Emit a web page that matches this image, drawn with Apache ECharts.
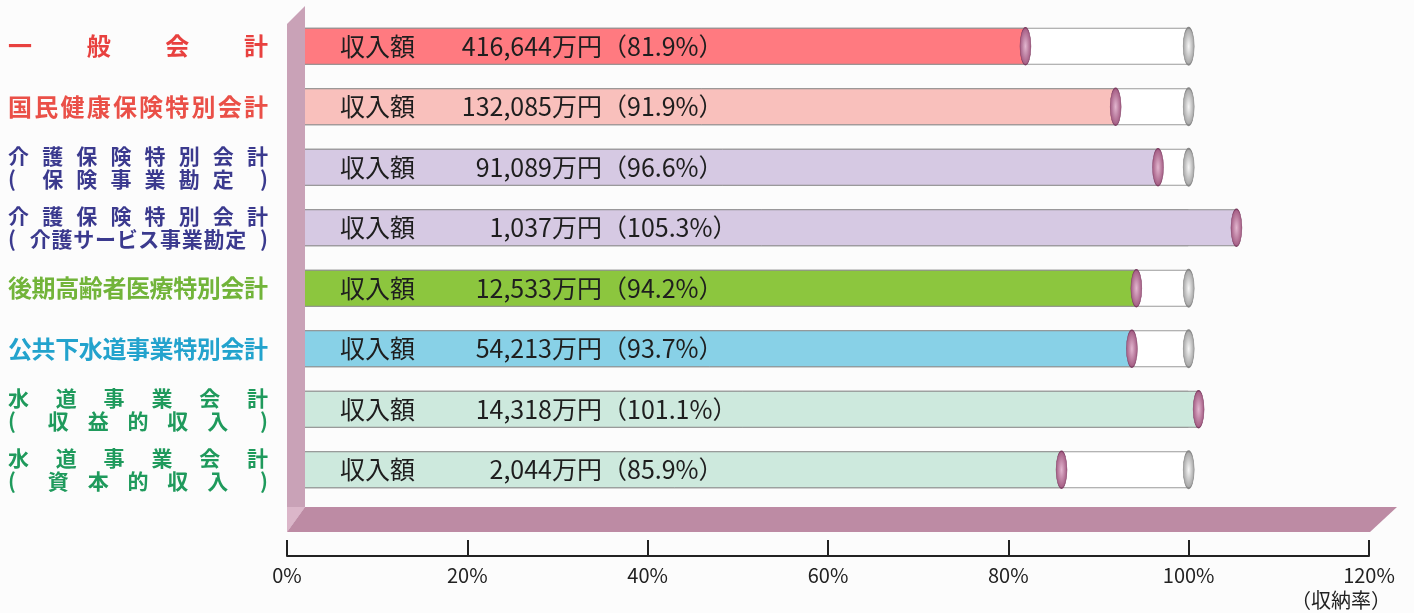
<!DOCTYPE html>
<html><head><meta charset="utf-8">
<script src="https://cdn.jsdelivr.net/npm/echarts@6/dist/echarts.min.js"></script>
<style>html,body{margin:0;background:#fcfcfc}#c{width:1414px;height:613px}</style>
</head><body><div id="c"></div>
<script>
// ---- data ----
const categoryLines = [
  ["一般会計"],
  ["国民健康保険特別会計"],
  ["介護保険特別会計", "(保険事業勘定)"],
  ["介護保険特別会計", "(介護サービス事業勘定)"],
  ["後期高齢者医療特別会計"],
  ["公共下水道事業特別会計"],
  ["水道事業会計", "(収益的収入)"],
  ["水道事業会計", "(資本的収入)"]
];
const labelColors = ["#e8413f", "#ea5048", "#3b3a8e", "#3b3a8e", "#72b43a", "#23a3cd", "#1f9a5c", "#1f9a5c"];
const amounts = ["416,644", "132,085", "91,089", "1,037", "12,533", "54,213", "14,318", "2,044"];
const rates = [81.9, 91.9, 96.6, 105.3, 94.2, 93.7, 101.1, 85.9];
const barColors = ["#ff7a80", "#f9c0bc", "#d6c9e3", "#d6c9e3", "#8cc63e", "#88d1e7", "#cde9dd", "#cde9dd"];
const xTicks = [0, 20, 40, 60, 80, 100, 120];
const fullRate = 100;

// ---- build label styles ----
const FONT = "'Noto Sans CJK JP', 'Noto Sans', sans-serif";
const LABEL_W = 260;
const rich = {};
categoryLines.forEach((lines, i) => {
  const fs = lines.length > 1 ? 21 : 24;
  lines.forEach((line, j) => {
    const n = [...line].length;
    const s = (LABEL_W - fs) / (n - 1);
    const base = {color: labelColors[i], fontSize: fs, fontFamily: FONT, fontWeight: 'bold', lineHeight: lines.length > 1 ? 23 : 30};
    rich['t' + i + '_' + j] = Object.assign({width: s, align: 'left'}, base);
    rich['l' + i + '_' + j] = Object.assign({width: fs, align: 'right'}, base);
  });
});
function catLabel(value, index) {
  return categoryLines[index].map((line, j) => {
    const chars = [...line];
    return chars.map((ch, k) => '{' + (k < chars.length - 1 ? 't' : 'l') + index + '_' + j + '|' + ch + '}').join('');
  }).join('\n');
}

const barText = {fontSize: 25, fontFamily: FONT, color: '#1e1e1e'};
const capValue = {type: 'radial', x: 0.5, y: 0.5, r: 0.6, colorStops: [{offset: 0, color: '#e2b6cf'}, {offset: 1, color: '#93446f'}]};
const capGray = {type: 'radial', x: 0.5, y: 0.5, r: 0.6, colorStops: [{offset: 0, color: '#f6f6f6'}, {offset: 1, color: '#8e8e8e'}]};

const option = {
  backgroundColor: '#fcfcfc',
  animation: false,
  grid: {left: 287, right: 45, top: 16, bottom: 113},
  xAxis: {
    type: 'value', min: xTicks[0], max: xTicks[xTicks.length - 1], interval: xTicks[1] - xTicks[0],
    position: 'bottom', offset: 56,
    axisLine: {show: true, lineStyle: {color: '#222', width: 2}},
    axisTick: {show: true, inside: true, length: 16, lineStyle: {color: '#222', width: 2}},
    axisLabel: {formatter: '{value}%', fontSize: 20, color: '#222', margin: 9, fontFamily: FONT},
    splitLine: {show: false},
    name: '（収納率）', nameLocation: 'end', nameGap: 22,
    nameTextStyle: {align: 'right', verticalAlign: 'top', padding: [34, 0, 0, 0], fontSize: 20, color: '#222', fontFamily: FONT}
  },
  yAxis: {
    type: 'category', inverse: true,
    data: categoryLines.map(l => l.join('')),
    axisLine: {show: false}, axisTick: {show: false}, splitLine: {show: false},
    axisLabel: {margin: 19, formatter: catLabel, rich: rich}
  },
  series: [
    {
      type: 'bar', barWidth: 37, z: 2,
      data: rates.map(() => fullRate),
      itemStyle: {color: '#ffffff', borderColor: '#9a9a9a', borderWidth: 1},
      silent: true
    },
    {
      type: 'bar', barWidth: 37, barGap: '-100%', z: 3,
      data: rates.map((v, i) => ({value: v, itemStyle: {color: barColors[i]}})),
      itemStyle: {borderColor: '#8e8e8e', borderWidth: 1},
      label: {
        show: true, position: [53, '50%'], align: 'left', verticalAlign: 'middle',
        formatter: p => '{a|収入額}{b|' + amounts[p.dataIndex] + '万円}{c|（' + rates[p.dataIndex].toFixed(1) + '%）}',
        rich: {
          a: Object.assign({width: 80, align: 'left'}, barText),
          b: Object.assign({width: 182, align: 'right'}, barText),
          c: Object.assign({align: 'right'}, barText)
        }
      }
    },
    {
      type: 'scatter', z: 4, symbol: 'circle', symbolSize: [11, 37],
      data: rates.map((v, i) => [fullRate, i]).filter((d, i) => rates[i] < fullRate),
      itemStyle: {color: capGray, borderColor: '#888', borderWidth: 1, opacity: 1}
    },
    {
      type: 'scatter', z: 5, symbol: 'circle', symbolSize: [11, 37],
      data: rates.map((v, i) => [v, i]),
      itemStyle: {color: capValue, borderColor: '#7d3d62', borderWidth: 0.8, opacity: 1}
    }
  ],
  graphic: [
    {type: 'polygon', z: 100, shape: {points: [[287, 24], [305, 6], [305, 507], [287, 532]]}, style: {fill: '#c9a2b7'}},
    {type: 'polygon', z: 101, shape: {points: [[287, 507], [305, 507], [287, 532]]}, style: {fill: '#dbb6c9'}},
    {type: 'polygon', z: 100, shape: {points: [[305, 507], [1397, 507], [1370, 532], [287, 532]]}, style: {fill: '#bd8ba4'}}
  ]
};
echarts.init(document.getElementById('c')).setOption(option);
</script></body></html>
